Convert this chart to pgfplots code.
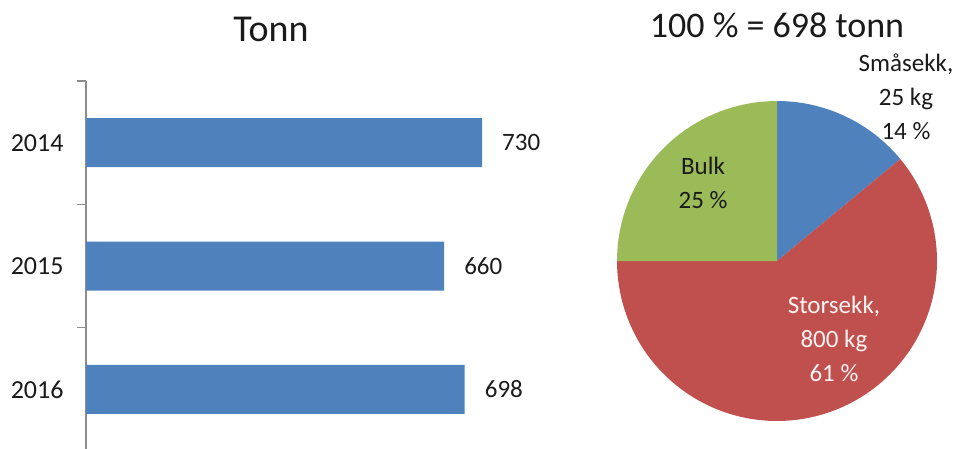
\documentclass[border=0pt]{standalone}
\usepackage{pgfplots}
\pgfplotsset{compat=1.18}
\usepackage{fontspec}
\setmainfont{Carlito}
\definecolor{barblue}{HTML}{4F81BD}
\definecolor{piered}{HTML}{C0504D}
\definecolor{piegreen}{HTML}{9BBB59}
\definecolor{axisgray}{HTML}{8C8C8C}
\definecolor{txt}{HTML}{1A1A1A}
\begin{document}
\begin{tikzpicture}[x=1pt,y=1pt]
\useasboundingbox (0,0) rectangle (958,448);
% ---- bar chart ----
\begin{axis}[
  at={(86pt,-3pt)}, anchor=south west, scale only axis,
  width=434pt, height=370pt,
  xmin=0, xmax=800, ymin=-0.5, ymax=2.5,
  y dir=reverse,
  xbar, bar width=49pt,
  axis x line=none, axis y line*=left,
  ytick={-0.5,0.5,1.5,2.5},
  yticklabels={2014,2015,2016},
  y tick label as interval,
  tick align=outside, major tick length=9pt,
  y axis line style={draw=axisgray, line width=1.2pt},
  y tick style={draw=axisgray, line width=1.2pt},
  tick label style={font=\fontsize{26}{30}\selectfont, text=txt},
  yticklabel style={xshift=-10pt},
  /pgf/number format/assume math mode=true,
  nodes near coords,
  every node near coord/.append style={anchor=west, inner sep=0pt, xshift=20pt, font=\fontsize{25}{30}\selectfont, text=txt},
  clip=false,
]
\addplot[fill=barblue, draw=none] coordinates {(730,0) (660,1) (698,2)};
\end{axis}
\node[anchor=base, text=txt, font=\fontsize{38}{42}\selectfont] at (271,406) {Tonn};
% ---- pie chart ----
\pgfmathsetmacro{\pA}{14}
\pgfmathsetmacro{\pB}{61}
\pgfmathsetmacro{\pC}{25}
\pgfmathsetmacro{\aA}{90-3.6*\pA}
\pgfmathsetmacro{\aB}{\aA-3.6*\pB}
\begin{axis}[
  at={(617pt,27pt)}, anchor=south west, scale only axis,
  width=320pt, height=320pt,
  xmin=-1, xmax=1, ymin=-1, ymax=1,
  hide axis, clip=false,
]
\addplot[fill=barblue, draw=none, domain=\aA:90, samples=40] ({cos(x)},{sin(x)}) -- (axis cs:0,0) -- cycle;
\addplot[fill=piered, draw=none, domain=\aB:\aA, samples=120] ({cos(x)},{sin(x)}) -- (axis cs:0,0) -- cycle;
\addplot[fill=piegreen, draw=none, domain=90:180, samples=40] ({cos(x)},{sin(x)}) -- (axis cs:0,0) -- cycle;
\node[align=center, text=txt, font=\fontsize{25}{34}\selectfont] at (axis cs:0.806,1.025) {Småsekk,\\25 kg\\14 \%};
\node[align=center, text=txt, font=\fontsize{25}{34}\selectfont] at (axis cs:-0.4625,0.4875) {Bulk\\25 \%};
\node[align=center, text=white!95!red, font=\fontsize{25}{34}\selectfont] at (axis cs:0.356,-0.4875) {Storsekk,\\800 kg\\61 \%};
\end{axis}
\node[anchor=base, text=txt, font=\fontsize{36}{40}\selectfont] at (777,410) {100 \% = 698 tonn};
\end{tikzpicture}
\end{document}
